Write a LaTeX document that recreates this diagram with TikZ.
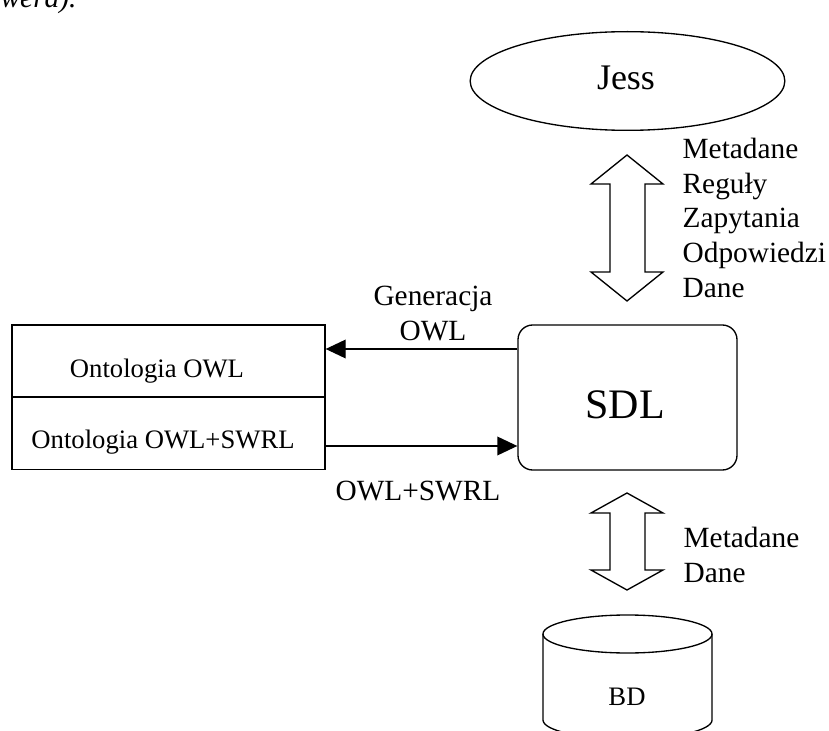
\documentclass[tikz,border=0pt]{standalone}
\usepackage{fontspec}
\setmainfont{Liberation Serif}
\usetikzlibrary{shapes.geometric,arrows.meta}
\begin{document}
\begin{tikzpicture}[x=0.75pt,y=-0.75pt,
  line width=1pt,
  lbl/.style={font=\fontsize{22pt}{26pt}\selectfont, inner sep=0pt},
  small/.style={font=\fontsize{20pt}{24pt}\selectfont, inner sep=0pt},
  box/.style={draw, minimum width=234.75pt, minimum height=54pt, inner sep=0pt},
  arr/.style={-{Triangle[length=15pt,width=14pt]}},
  fatarrow/.style={draw, line join=miter}]
\useasboundingbox (0,0) rectangle (829,731);
\clip (0,0) rectangle (829,731);

% cut-off text at top
\node[lbl, anchor=base west, font=\fontsize{22pt}{26pt}\selectfont\itshape] (top) at (0,7.5) {wera).};

% Jess
\coordinate (jc) at (627.5,81);
\draw (jc) ellipse [x radius=118pt, y radius=37pt];
\node[inner sep=0pt, anchor=base, font=\fontsize{27pt}{32pt}\selectfont] (jess) at (626,90) {Jess};

% SDL
\node[draw, rounded corners=11pt, minimum width=164.25pt, minimum height=108.75pt, inner sep=0pt] (sdl) at (627.5,397.5) {};
\node[inner sep=0pt, anchor=base, font=\fontsize{31.5pt}{36pt}\selectfont] (sdlt) at (625,418) {SDL};

% Ontology boxes
\node[box] (owl) at (168.5,361) {};
\node[box] (swrl) at (168.5,433.5) {};
\node[small, anchor=base] (owlt) at (157,377) {Ontologia OWL};
\node[small, anchor=base] (swrlt) at (163,448) {Ontologia OWL+SWRL};

% horizontal connectors
\coordinate (y1) at (0,349);
\coordinate (y2) at (0,446);
\draw[arr] (sdl.west |- y1) -- (owl.east |- y1);
\draw[arr] (swrl.east |- y2) -- (sdl.west |- y2);
\node[lbl, align=center, anchor=base] (gen) at (433,340) {Generacja\\OWL};
\node[lbl, anchor=base] (ows) at (418,500) {OWL+SWRL};

% upper double arrow
\draw[fatarrow] (627,155) -- (663,184) -- (645,184) -- (645,272) -- (663,272) -- (627,301)
  -- (591,272) -- (610,272) -- (610,184) -- (591,184) -- cycle;
\node[lbl, align=left, anchor=base west] (lab1) at (682,297) {Metadane\\Reguły\\Zapytania\\Odpowiedzi\\Dane};

% lower double arrow
\draw[fatarrow] (627,493) -- (663,513) -- (645,513) -- (645,570) -- (663,570) -- (627,590)
  -- (591,570) -- (610,570) -- (610,513) -- (591,513) -- cycle;
\node[lbl, align=left, anchor=base west] (lab2) at (683,582) {Metadane\\Dane};

% BD cylinder
\draw (543,634) -- (543,720) arc[start angle=180, end angle=360, x radius=63.4pt, y radius=14.25pt] -- (712,634);
\draw (627.5,634) ellipse [x radius=63.4pt, y radius=14.25pt];
\node[small, anchor=base] (bd) at (627,705) {BD};
\end{tikzpicture}
\end{document}
